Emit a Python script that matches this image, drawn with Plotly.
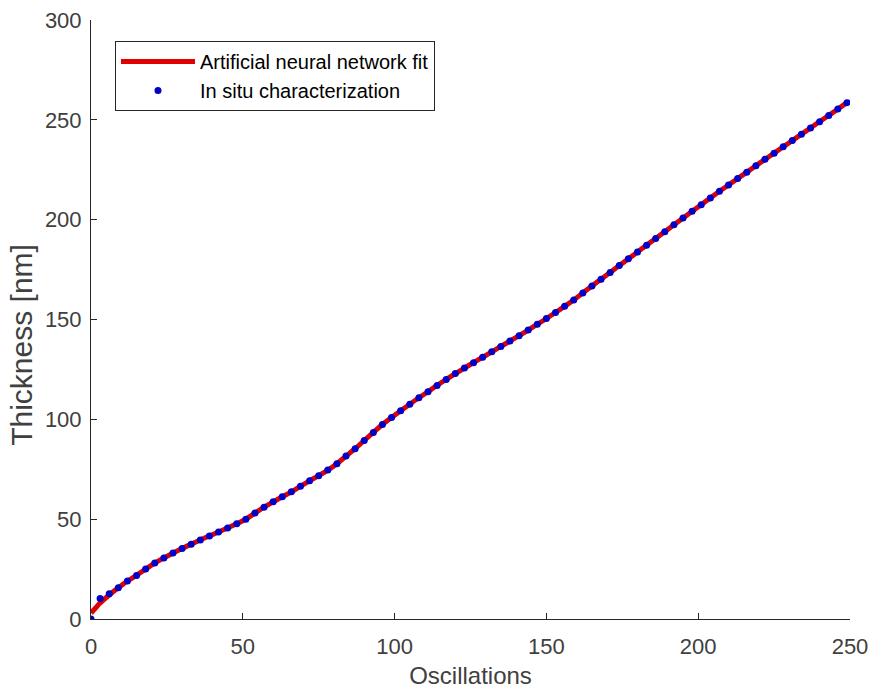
import plotly.graph_objects as go

# Oscillation index of each in-situ measurement
osc = [0, 3, 6, 9, 12, 15, 18, 21, 24, 27, 30, 33, 36, 39, 42, 45, 48, 51, 54, 57,
       60, 63, 66, 69, 72, 75, 78, 81, 84, 87, 90, 93, 96, 99, 102, 105, 108, 111, 114, 117,
       120, 123, 126, 129, 132, 135, 138, 141, 144, 147, 150, 153, 156, 159, 162, 165, 168, 171, 174, 177,
       180, 183, 186, 189, 192, 195, 198, 201, 204, 207, 210, 213, 216, 219, 222, 225, 228, 231, 234, 237,
       240, 243, 246, 249]

# In situ characterization thickness [nm]
thickness = [0.0, 10.3, 12.7, 15.7, 19.0, 21.8, 25.0, 28.0, 30.6, 33.0, 35.3, 37.5, 39.6, 41.6, 43.6, 45.6, 47.7, 50.0, 53.1, 56.0,
             58.7, 61.2, 63.7, 66.5, 69.2, 71.8, 74.6, 77.8, 81.6, 85.3, 89.4, 93.4, 97.4, 100.9, 104.3, 107.6, 110.8, 113.8, 117.0, 120.0,
             122.9, 125.7, 128.4, 131.1, 133.8, 136.5, 139.2, 141.9, 144.7, 147.6, 150.5, 153.5, 156.6, 159.8, 163.3, 166.8, 170.2, 173.6, 177.0, 180.4,
             183.8, 187.2, 190.6, 194.0, 197.4, 200.8, 204.2, 207.5, 210.9, 214.2, 217.4, 220.6, 223.8, 227.0, 230.2, 233.3, 236.5, 239.6, 242.8, 245.9,
             249.1, 252.2, 255.4, 258.6]

# Artificial neural network fit [nm]
fit_osc = [0, 1.5, 3, 6, 9, 12, 15, 18, 21, 24, 27, 30, 33, 36, 39, 42, 45, 48, 51, 54, 57,
           60, 63, 66, 69, 72, 75, 78, 81, 84, 87, 90, 93, 96, 99, 102, 105, 108, 111, 114, 117,
           120, 123, 126, 129, 132, 135, 138, 141, 144, 147, 150, 153, 156, 159, 162, 165, 168, 171, 174, 177,
           180, 183, 186, 189, 192, 195, 198, 201, 204, 207, 210, 213, 216, 219, 222, 225, 228, 231, 234, 237,
           240, 243, 246, 249]
fit_thk = [3.0, 5.5, 8.0, 12.0, 15.6, 19.0, 21.9, 25.0, 28.0, 30.6, 33.0, 35.3, 37.5, 39.6, 41.6, 43.6, 45.6, 47.7, 50.0, 53.0, 56.0,
           58.7, 61.2, 63.7, 66.5, 69.2, 71.8, 74.6, 77.8, 81.6, 85.3, 89.4, 93.4, 97.4, 100.9, 104.3, 107.6, 110.8, 113.8, 117.0, 120.0,
           122.9, 125.7, 128.4, 131.1, 133.8, 136.5, 139.2, 141.9, 144.7, 147.6, 150.5, 153.5, 156.6, 159.8, 163.3, 166.8, 170.2, 173.6, 177.0, 180.4,
           183.8, 187.2, 190.6, 194.0, 197.4, 200.8, 204.2, 207.5, 210.9, 214.2, 217.4, 220.6, 223.8, 227.0, 230.2, 233.3, 236.5, 239.6, 242.8, 245.9,
           249.1, 252.2, 255.4, 258.6]

x_ticks = [0, 50, 100, 150, 200, 250]
y_ticks = [0, 50, 100, 150, 200, 250, 300]

AX = "#262626"
TXT = "#404040"
FONT = "Liberation Sans, Arial, sans-serif"

fig = go.Figure()
fig.add_trace(go.Scatter(
    x=fit_osc, y=fit_thk, mode="lines", name="Artificial neural network fit",
    line=dict(color="#e00000", width=5, shape="spline"),
))
fig.add_trace(go.Scatter(
    x=osc, y=thickness, mode="markers", name="In situ characterization",
    marker=dict(color="#0000c8", size=7, line=dict(width=0)),
))

fig.update_layout(
    width=872, height=692,
    margin=dict(l=91, r=22, t=20, b=73, autoexpand=False),
    paper_bgcolor="white", plot_bgcolor="white",
    font=dict(family=FONT, color=AX),
    showlegend=True,
    legend=dict(
        x=0.0316, y=0.965, xanchor="left", yanchor="top",
        bgcolor="white", bordercolor=AX, borderwidth=1,
        font=dict(family=FONT, size=20, color="#000000"),
        itemwidth=74, tracegroupgap=0,
    ),
    xaxis=dict(
        range=[0, 250], tickvals=x_ticks, ticktext=[str(v) for v in x_ticks],
        showgrid=False, zeroline=False, showline=True, linecolor=AX, linewidth=1,
        ticks="inside", ticklen=6, tickcolor=AX, mirror=False, automargin=False,
        tickfont=dict(size=22, color=TXT), ticklabelstandoff=8,
        title=dict(text="Oscillations", font=dict(size=24, color=TXT), standoff=8),
    ),
    yaxis=dict(
        range=[0, 300], tickvals=y_ticks, ticktext=[str(v) for v in y_ticks],
        showgrid=False, zeroline=False, showline=True, linecolor=AX, linewidth=1,
        ticks="inside", ticklen=6, tickcolor=AX, mirror=False, automargin=False,
        tickfont=dict(size=22, color=TXT), ticklabelstandoff=4,
    ),
    annotations=[dict(
        text="Thickness [nm]", textangle=-90, showarrow=False,
        xref="paper", yref="paper", x=-0.092, y=0.458,
        xanchor="center", yanchor="middle",
        font=dict(family=FONT, size=30, color=TXT),
    )],
)

fig.write_html("out.html")
